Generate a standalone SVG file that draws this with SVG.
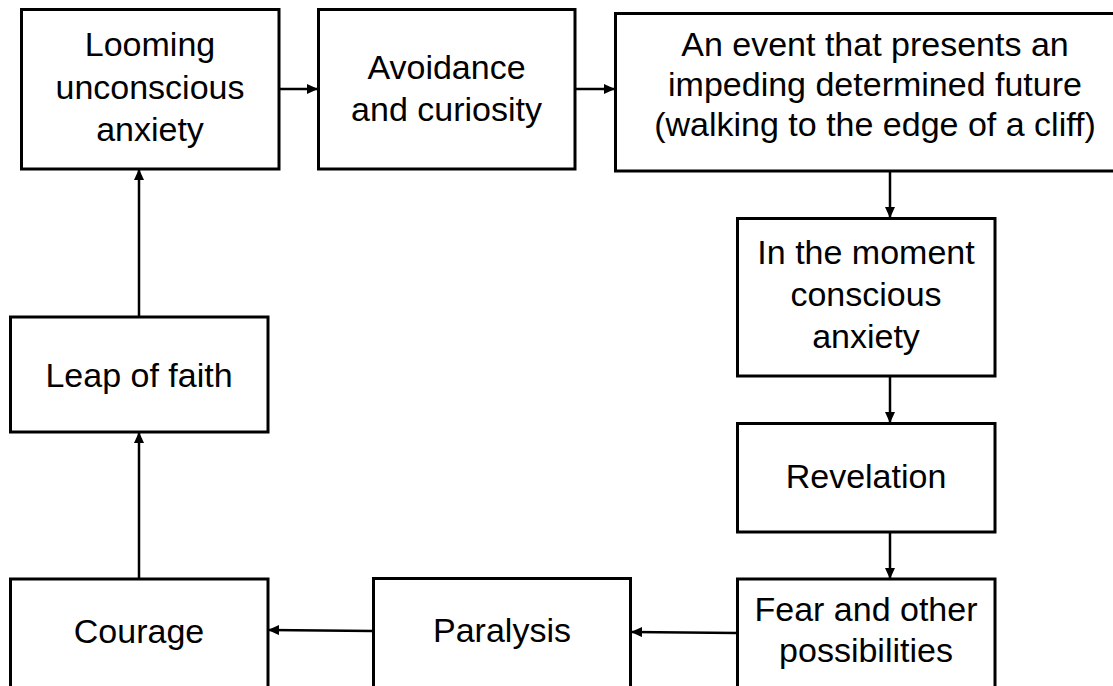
<svg xmlns="http://www.w3.org/2000/svg" width="1113" height="686" viewBox="0 0 1113 686">
<style>
.box{fill:#fff;stroke:#000;stroke-width:3}
.lbl{font-family:"Liberation Sans",Arial,sans-serif;font-size:34px;fill:#000;text-anchor:middle}
.conn{stroke:#000;stroke-width:2.5;fill:none;marker-end:url(#ah)}
</style>
<defs>
<marker id="ah" markerUnits="userSpaceOnUse" markerWidth="11" markerHeight="10" refX="10" refY="5" orient="auto">
<path d="M0,0 L11,5 L0,10 z" fill="#000"/>
</marker>
</defs>
<rect width="1113" height="686" fill="#fff"/>
<g id="connectors">
<line class="conn" x1="279" y1="89" x2="317" y2="89"/>
<line class="conn" x1="575" y1="89" x2="614" y2="89"/>
<line class="conn" x1="890" y1="171" x2="890" y2="217"/>
<line class="conn" x1="890" y1="376" x2="890" y2="422"/>
<line class="conn" x1="890" y1="532" x2="890" y2="578"/>
<line class="conn" x1="737" y1="633" x2="632" y2="632"/>
<line class="conn" x1="373" y1="631" x2="269" y2="630"/>
<line class="conn" x1="139" y1="578" x2="139" y2="433"/>
<line class="conn" x1="139" y1="317" x2="139" y2="170"/>
</g>
<g id="n-looming">
<rect class="box" x="21.5" y="9.5" width="257.5" height="159.5"/>
<text class="lbl" x="150" y="56">Looming</text>
<text class="lbl" x="150" y="99">unconscious</text>
<text class="lbl" x="150" y="141">anxiety</text>
</g>
<g id="n-avoidance">
<rect class="box" x="318.5" y="9.5" width="256.5" height="159.5"/>
<text class="lbl" x="446.5" y="79">Avoidance</text>
<text class="lbl" x="446.5" y="121">and curiosity</text>
</g>
<g id="n-event">
<rect class="box" x="615.5" y="13.5" width="520" height="157.5"/>
<text class="lbl" x="875" y="56">An event that presents an</text>
<text class="lbl" x="875" y="96">impeding determined future</text>
<text class="lbl" x="875" y="136">(walking to the edge of a cliff)</text>
</g>
<g id="n-moment">
<rect class="box" x="737.5" y="218.5" width="257.5" height="157.5"/>
<text class="lbl" x="866" y="264">In the moment</text>
<text class="lbl" x="866" y="306">conscious</text>
<text class="lbl" x="866" y="348">anxiety</text>
</g>
<g id="n-revelation">
<rect class="box" x="737.5" y="423.5" width="257.5" height="108.5"/>
<text class="lbl" x="866" y="488">Revelation</text>
</g>
<g id="n-fear">
<rect class="box" x="737.5" y="579" width="257.5" height="120"/>
<text class="lbl" x="866" y="621">Fear and other</text>
<text class="lbl" x="866" y="662">possibilities</text>
</g>
<g id="n-paralysis">
<rect class="box" x="373.5" y="578.5" width="257" height="120"/>
<text class="lbl" x="502" y="642">Paralysis</text>
</g>
<g id="n-courage">
<rect class="box" x="10.5" y="579" width="257.5" height="120"/>
<text class="lbl" x="139" y="643">Courage</text>
</g>
<g id="n-leap">
<rect class="box" x="10.5" y="317" width="257.5" height="115"/>
<text class="lbl" x="139" y="387">Leap of faith</text>
</g>
</svg>
